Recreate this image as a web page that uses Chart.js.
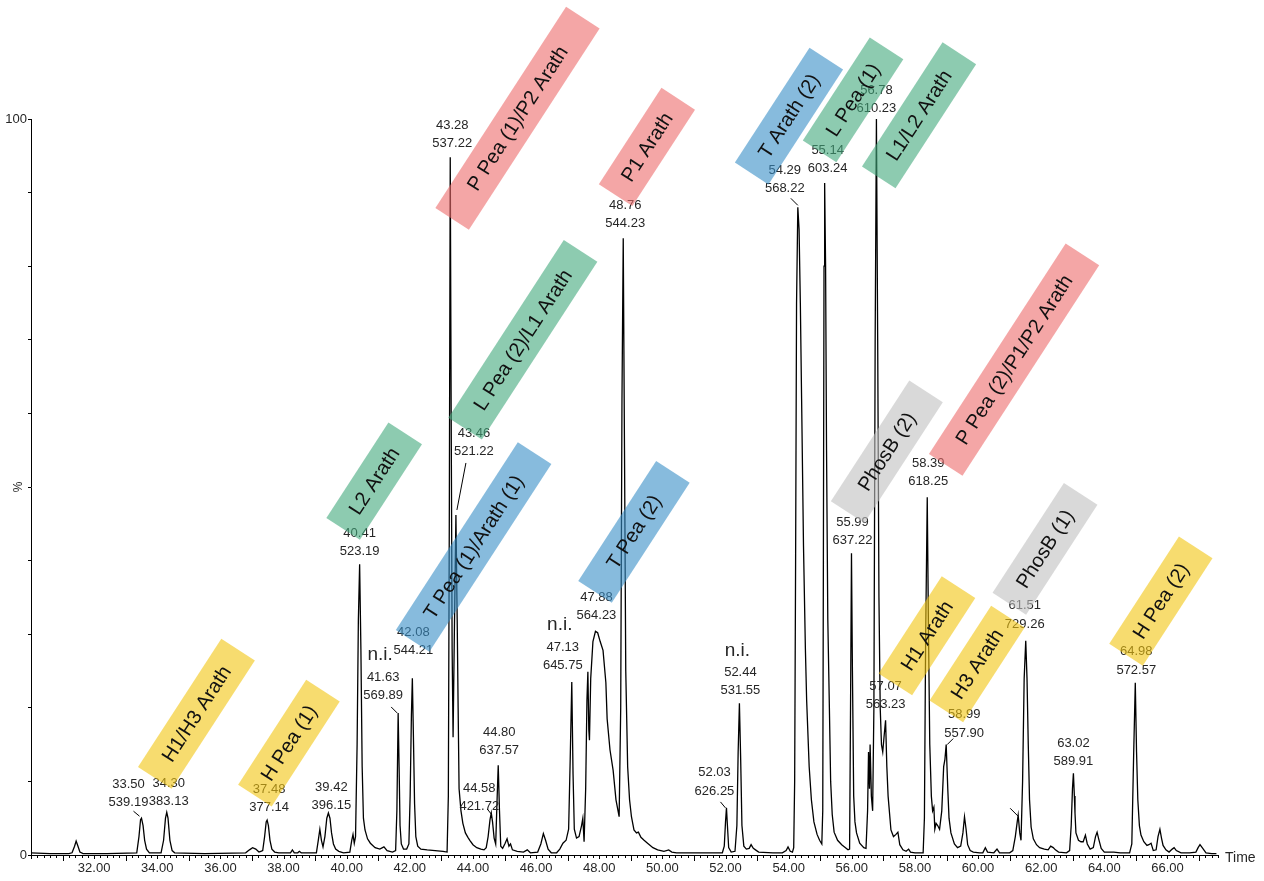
<!DOCTYPE html>
<html><head><meta charset="utf-8">
<script src="https://cdn.jsdelivr.net/npm/chart.js@4/dist/chart.umd.min.js"></script>
<style>html,body{margin:0;padding:0;background:#fff;}canvas{display:block;}</style>
</head><body>
<canvas id="c" width="1264" height="881"></canvas>
<script>
// ---- data (retention time in min, relative intensity in %) ----
const timeMin = [30.00,30.60,31.20,31.30,31.38,31.43,31.48,31.55,31.65,32.40,33.35,33.42,33.47,33.50,33.55,33.60,33.66,33.75,34.12,34.20,34.26,34.30,34.34,34.40,34.47,34.55,35.50,36.80,36.92,37.02,37.12,37.22,37.28,37.34,37.40,37.45,37.48,37.52,37.57,37.63,37.72,37.85,38.22,38.28,38.34,38.45,38.50,38.56,39.04,39.10,39.15,39.20,39.25,39.31,39.37,39.42,39.47,39.52,39.58,39.65,39.75,39.90,40.10,40.16,40.20,40.24,40.28,40.33,40.37,40.41,40.45,40.49,40.53,40.58,40.66,40.75,40.90,41.05,41.18,41.28,41.45,41.55,41.59,41.63,41.66,41.69,41.73,41.80,41.90,41.97,42.01,42.05,42.08,42.11,42.15,42.19,42.25,42.35,42.55,42.80,43.05,43.18,43.22,43.25,43.28,43.31,43.34,43.37,43.41,43.46,43.50,43.53,43.56,43.62,43.68,43.76,43.84,43.90,44.00,44.12,44.25,44.35,44.42,44.48,44.54,44.58,44.62,44.67,44.72,44.76,44.80,44.84,44.88,44.94,45.02,45.08,45.14,45.19,45.25,45.40,45.60,45.72,45.82,46.05,46.15,46.23,46.30,46.38,46.48,46.65,46.75,46.85,46.95,47.03,47.08,47.13,47.17,47.21,47.28,47.36,47.44,47.48,47.52,47.57,47.61,47.64,47.67,47.69,47.73,47.80,47.88,47.95,48.03,48.12,48.21,48.25,48.34,48.44,48.53,48.63,48.68,48.72,48.76,48.80,48.84,48.90,48.96,49.02,49.10,49.18,49.24,49.32,49.42,49.53,49.70,49.85,50.05,50.20,50.30,50.45,51.20,51.90,51.96,52.00,52.03,52.06,52.10,52.18,52.30,52.36,52.40,52.44,52.48,52.52,52.58,52.66,52.75,52.81,52.88,52.95,53.05,53.50,53.80,53.92,53.98,54.05,54.12,54.16,54.19,54.22,54.25,54.29,54.33,54.37,54.41,54.47,54.53,54.57,54.65,54.72,54.80,54.90,54.98,55.05,55.08,55.10,55.12,55.14,55.17,55.20,55.24,55.29,55.33,55.38,55.44,55.55,55.68,55.80,55.88,55.93,55.96,55.99,56.02,56.06,56.10,56.15,56.25,56.38,56.45,56.50,56.53,56.56,56.58,56.62,56.66,56.70,56.74,56.78,56.82,56.86,56.90,56.94,56.98,57.02,57.07,57.11,57.15,57.24,57.32,57.40,57.46,57.52,57.62,57.72,57.80,57.86,58.00,58.26,58.30,58.34,58.39,58.43,58.47,58.52,58.56,58.60,58.63,58.67,58.72,58.78,58.85,58.91,58.95,58.99,59.04,59.08,59.14,59.25,59.35,59.45,59.52,59.57,59.62,59.67,59.75,59.85,60.05,60.15,60.23,60.30,60.50,60.60,60.68,61.00,61.10,61.18,61.24,61.27,61.32,61.36,61.41,61.46,61.51,61.55,61.59,61.63,61.68,61.75,61.85,61.95,62.10,62.22,62.30,62.38,62.45,62.55,62.80,62.90,62.95,62.99,63.02,63.05,63.07,63.10,63.18,63.26,63.33,63.40,63.46,63.55,63.65,63.72,63.77,63.82,63.90,64.00,64.30,64.50,64.80,64.87,64.93,64.98,65.02,65.06,65.11,65.16,65.25,65.35,65.41,65.48,65.55,65.64,65.70,65.76,65.81,65.86,65.95,66.05,66.15,66.21,66.28,66.43,66.70,66.90,66.97,67.03,67.10,67.22,67.40,67.55];
const intensity = [0.3,0.2,0.2,0.3,1.2,1.9,1.3,0.4,0.2,0.2,0.3,2.5,4.8,5.0,4.0,2.0,0.8,0.3,0.3,2.0,5.0,5.8,5.0,2.0,0.6,0.3,0.2,0.3,0.7,1.0,0.8,0.4,0.5,0.6,2.5,4.5,4.75,4.0,2.0,0.8,0.4,0.3,0.3,0.7,0.3,0.3,0.5,0.3,0.3,2.0,3.5,2.0,1.1,2.5,5.0,5.7,5.0,3.0,1.5,0.8,0.5,0.3,0.4,2.0,2.8,1.6,2.5,15,32,39.5,28,12,5.0,3.4,2.2,1.6,1.0,0.8,1.1,0.6,0.4,0.6,6,19.3,12,4,1.5,0.8,0.8,1.5,8,19,24.0,17,7,2.5,1.2,0.8,0.7,0.6,0.5,0.4,8,45,94.8,60,28,16,30,46.2,32,20,9,6,4.3,3.0,2.4,2.0,1.4,1.0,0.8,0.7,1.0,2.5,4.8,5.7,4.5,2.3,1.5,7,12.2,6,1.2,0.9,1.6,2.2,1.2,1.5,0.7,0.5,0.4,0.7,0.3,0.4,1.5,2.9,2.0,0.8,0.3,0.3,0.8,1.6,2.0,3.5,13,23.5,11,3.5,2.3,2.5,4.0,5.0,1.8,9,21,24.9,17,15.6,24,29,30.4,30.2,29,27.8,23.4,18.5,14.3,11.5,7.5,5.2,20,62,83.8,55,25,12,7.5,5.2,3.4,3.0,3.1,2.4,2.0,1.6,1.0,0.7,0.5,0.7,0.4,0.3,0.3,0.3,1.2,4.5,6.4,4.0,1.0,0.4,0.5,4.0,14,20.6,13,4.0,1.2,0.8,0.9,1.4,0.9,0.7,0.4,0.3,0.3,0.6,1.1,0.5,0.4,1.0,10,40,75,88.0,85,75,62,42,28,21,12,7.5,4.5,2.8,2.0,1.5,6,40,80,91.3,80,55,32,20,10,5.5,3.1,2.0,1.4,1.0,0.7,0.8,20,41,25,8,4.5,3.0,1.6,1.0,0.9,6,14,9,15,8,6,20,70,100,70,35,20,15,14,16,18.3,12,8,3.4,2.5,2.8,3.1,1.4,0.7,0.5,0.8,0.4,0.3,0.3,5,30,48.6,30,15,8,6.0,6.5,3.5,4.3,4.0,3.5,6,12,13,15,9,5,3,1.5,1.0,1.2,3,5.2,3.5,1.4,0.6,0.4,0.3,0.3,1.0,0.4,0.3,0.8,0.3,0.3,0.6,2.5,4.5,5.4,3.0,2.0,10,24,29.1,24,15,7.5,3.8,2.2,1.4,1.0,0.8,0.7,1.2,1.0,0.7,0.4,0.3,0.6,4,9,11.1,8,5.7,3.0,2.0,1.8,1.8,2.7,1.5,0.8,1.0,2.5,3.1,2.2,0.9,0.4,0.4,0.3,0.3,1.5,14,23.4,14,7.5,4.0,2.7,1.8,1.3,1.4,1.6,0.6,0.7,2.5,3.5,2.3,1.3,0.7,0.4,0.8,1.0,0.6,0.3,0.3,0.4,1.0,1.4,1.0,0.3,0.2,0.2];

// axis ticks
const xTickValues = [32,34,36,38,40,42,44,46,48,50,52,54,56,58,60,62,64,66];
const yTickValues = [0,10,20,30,40,50,60,70,80,90,100];
const yTickLabels = {0:'0',100:'100'};

// peak annotations: retention time + m/z
const peakTimes  = [33.50,34.30,37.48,39.42,40.41,41.63,42.08,43.28,43.46,44.58,44.80,47.13,47.88,48.76,52.03,52.44,54.29,55.14,55.99,56.78,57.07,58.39,58.99,61.51,63.02,64.98];
const peakMasses = ['539.19','383.13','377.14','396.15','523.19','569.89','544.21','537.22','521.22','421.72','637.57','645.75','564.23','544.23','626.25','531.55','568.22','603.24','637.22','610.23','563.23','618.25','557.90','729.26','589.91','572.57'];
const notIdentified = [41.63,47.13,52.44];

// assignment boxes
const boxLabels = ['H1/H3 Arath','H Pea (1)','L2 Arath','T Pea (1)/Arath (1)','L Pea (2)/L1 Arath','P Pea (1)/P2 Arath','T Pea (2)','P1 Arath','T Arath (2)','L Pea (1)','L1/L2 Arath','PhosB (2)','P Pea (2)/P1/P2 Arath','H1 Arath','H3 Arath','PhosB (1)','H Pea (2)'];
const boxGroup  = ['H','H','L','T','L','P','T','P','T','L','L','PhosB','P','H','H','PhosB','H'];

// ---- layout/styling (not data) ----
const labelOffsets = { // [dx, dy] of first text line centre from peak apex, px
 33.50:[-13,-34],34.30:[2,-29],37.48:[2,-31],39.42:[3,-26],40.41:[0,-31],41.63:[-15,-36],42.08:[1,-46],
 43.28:[2,-32],43.46:[18,-82],44.58:[-12,-25],44.80:[1,-33],47.13:[-9,-35],47.88:[1,-34],48.76:[2,-33],
 52.03:[-12,-35],52.44:[1,-31],54.29:[-13,-37],55.14:[3,-33],55.99:[1,-31],56.78:[0,-29],57.07:[0,-34],
 58.39:[1,-34],58.99:[18,-30],61.51:[-1,-35],63.02:[0,-30],64.98:[1,-31]};
const leaders = [ // [peak time, x1,y1,x2,y2] offsets from apex
 [33.50,-8,-7,-2,-2],[41.63,-7,-6,-1,0],[43.46,10,-52,1,-5],[44.58,-4,-4,0,1],[52.03,-6,-6,-1,0],
 [54.29,-7,-9,0,-2],[58.99,7,-6,1,0],[61.27,-8,-7,0,1]];
const boxPlace = [ // centre (time, %) and length in px
 [35.24,19.2,153],[38.17,15.2,125],[40.87,50.8,114],[44.02,41.85,224],[45.58,70.0,212],[45.41,100.1,240],
 [49.10,43.9,143],[49.51,96.2,115],[54.01,100.4,137],[56.04,102.6,123],[58.13,100.5,148],[57.11,54.8,144],
 [61.14,67.3,251],[58.38,29.8,116],[59.97,25.95,113],[62.12,41.6,131],[65.79,34.5,128]];
const groupColor = {H:'rgba(242,197,15,0.6)',L:'rgba(65,168,123,0.6)',T:'rgba(55,142,198,0.6)',P:'rgba(237,107,107,0.6)',PhosB:'rgba(192,192,192,0.6)'};
const FONT = '"Liberation Sans", Arial, sans-serif';
const TXT = '#262626';

function intensityAt(t){const i=timeMin.findIndex(v=>Math.abs(v-t)<1e-6);return intensity[i];}

const annot = {
 id:'annot',
 afterDraw(chart){
  const {ctx, chartArea:ca} = chart; const xs=chart.scales.x, ys=chart.scales.y;
  ctx.save();
  // x tick marks
  ctx.strokeStyle='#000'; ctx.lineWidth=1;
  for(let k=0;k<=188;k++){
    const v=30+k*0.2; const px=Math.round(xs.getPixelForValue(v))+0.5;
    const r=Math.round(v); const isInt=Math.abs(v-r)<1e-6;
    const len = isInt ? (r%2===1?6:4) : 3;
    ctx.beginPath(); ctx.moveTo(px,ca.bottom); ctx.lineTo(px,ca.bottom+len); ctx.stroke();
  }
  // axis titles
  ctx.fillStyle=TXT; ctx.font='14px '+FONT; ctx.textAlign='left'; ctx.textBaseline='middle';
  ctx.fillText('Time', 1225, 858);
  ctx.save(); ctx.translate(19,487); ctx.rotate(-Math.PI/2); ctx.textAlign='center'; ctx.font='12px '+FONT; ctx.fillText('%',0,0); ctx.restore();
  // peak labels
  const apex = t=>[xs.getPixelForValue(t), ys.getPixelForValue(intensityAt(t))];
  ctx.textAlign='center'; ctx.textBaseline='middle';
  peakTimes.forEach((t,i)=>{
    const [ax,ay]=apex(t); const [dx,dy]=labelOffsets[t.toFixed(2)]||labelOffsets[t];
    ctx.fillStyle=TXT; ctx.font='13px '+FONT;
    ctx.fillText(t.toFixed(2), ax+dx, ay+dy);
    ctx.fillText(peakMasses[i], ax+dx, ay+dy+18.5);
    if(notIdentified.includes(t)){ ctx.font='19px '+FONT; ctx.fillText('n.i.', ax+dx-3, ay+dy-22); }
  });
  ctx.strokeStyle='#000'; ctx.lineWidth=1;
  leaders.forEach(([t,x1,y1,x2,y2])=>{const [ax,ay]=apex(t); ctx.beginPath(); ctx.moveTo(ax+x1,ay+y1); ctx.lineTo(ax+x2,ay+y2); ctx.stroke();});
  // assignment boxes
  boxLabels.forEach((lab,i)=>{
    const [bt,bi,len]=boxPlace[i];
    const cx=xs.getPixelForValue(bt), cy=ys.getPixelForValue(bi);
    ctx.save(); ctx.translate(cx,cy); ctx.rotate(-57*Math.PI/180);
    ctx.fillStyle=groupColor[boxGroup[i]]; ctx.fillRect(-len/2,-20,len,40);
    ctx.fillStyle='#111'; ctx.font='20px '+FONT; ctx.textAlign='center'; ctx.textBaseline='middle';
    ctx.fillText(lab,0,1);
    ctx.restore();
  });
  ctx.restore();
 }
};

new Chart(document.getElementById('c'),{
 type:'line',
 data:{datasets:[{data:timeMin.map((t,i)=>({x:t,y:intensity[i]})),borderColor:'#000',borderWidth:1.3,pointRadius:0,tension:0,fill:false,clip:false}]},
 options:{
  responsive:false, animation:false, devicePixelRatio:1,
  layout:{padding:{left:0,right:46,top:119,bottom:0}},
  plugins:{legend:{display:false},tooltip:{enabled:false}},
  scales:{
   x:{type:'linear',min:30,max:67.6,
      afterBuildTicks:s=>{s.ticks=xTickValues.map(v=>({value:v}));},
      afterFit:s=>{s.height=26;},
      ticks:{autoSkip:false,maxRotation:0,padding:6,color:TXT,font:{family:FONT,size:13},callback:v=>Number(v).toFixed(2)},
      grid:{display:false,drawTicks:false},
      border:{display:true,color:'#000',width:1}},
   y:{min:0,max:100,
      afterBuildTicks:s=>{s.ticks=yTickValues.map(v=>({value:v}));},
      afterFit:s=>{s.width=31;},
      ticks:{padding:1,color:TXT,font:{family:FONT,size:13},callback:v=>yTickLabels[v]||''},
      grid:{display:true,drawOnChartArea:false,drawTicks:true,tickLength:3,color:'#000'},
      border:{display:true,color:'#000',width:1}}
  }
 },
 plugins:[annot]
});
</script>
</body></html>
